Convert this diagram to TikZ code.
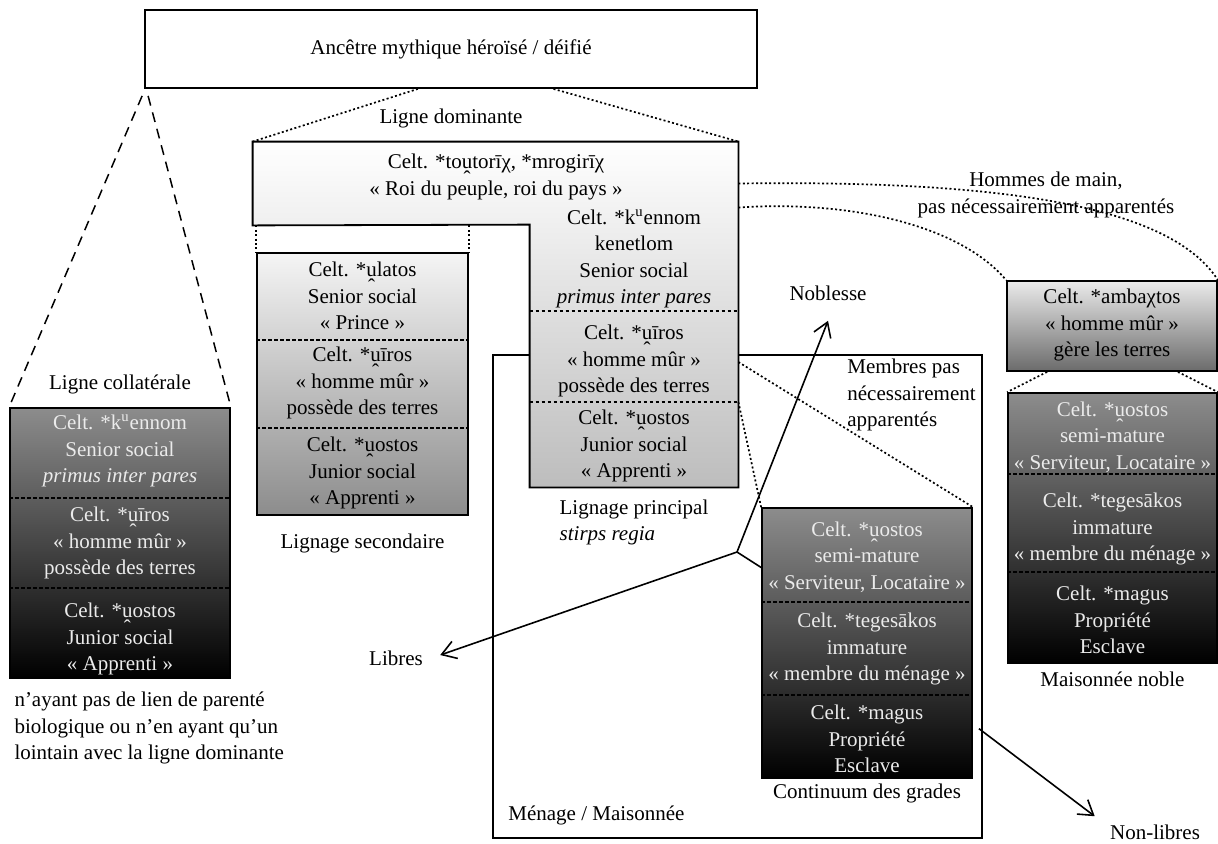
\documentclass[tikz,border=0pt]{standalone}
\usepackage{fontspec}
\setmainfont{Liberation Serif}
\usetikzlibrary{arrows.meta,positioning,calc}
\newcommand{\nsyl}[1]{\ooalign{#1\cr\hidewidth\raisebox{-0.8em}[0pt][0pt]{\char"02C6}\hidewidth\cr}}
\tikzset{
    lignframe/.style={draw, line width=0.9pt, inner sep=0pt},
    lignlight/.style={lignframe, top color=black!4, middle color=black!22, bottom color=black!45},
    lignmid/.style={lignframe, top color=black!8, middle color=black!30, bottom color=black!58},
    ligndark/.style={lignframe, top color=black!45, middle color=black!62, bottom color=black},
    lignitem/.style={align=center, inner sep=0pt},
    ligndarkitem/.style={lignitem, text=black!8},
    lignnote/.style={align=center, inner sep=1pt},
    lignsep/.style={line width=0.7pt, dash pattern=on 1.8pt off 1.2pt},
    ligndot/.style={line width=0.85pt, dash pattern=on 1pt off 1.2pt},
    ligndash/.style={line width=0.75pt, dash pattern=on 5pt off 3.5pt},
    lignline/.style={line width=0.8pt},
    lignarrow/.style={line width=0.8pt, -{Straight Barb[length=7pt,width=9pt]}}
}
\begin{document}
\begin{tikzpicture}[x=0.5pt, y=-0.5pt, font=\fontsize{10.5}{13.2}\selectfont]
    \useasboundingbox (0,0) rectangle (1218,843);
    \node[lignframe, minimum width=244.5pt, minimum height=241.5pt] (menage) at (737.5,596.5) {};
    \node[lignframe, fill=white, minimum width=306pt, minimum height=39pt] (anc) at (451,49) {Ancêtre mythique héroïsé / déifié};
    \node[inner sep=0pt, minimum width=242.5pt, minimum height=41.5pt] (roi) at (495.5,183.5) {};
    \node[inner sep=0pt, minimum width=104pt, minimum height=131pt] (princ) at (634,356) {};
    \draw[line width=0.9pt, top color=white, middle color=black!5, bottom color=black!26]
        (roi.north west) -- (roi.north east) -- (princ.south east) -- (princ.south west)
        -- (princ.north west) -- (roi.south west) -- cycle;
    \node[lignlight, minimum width=105.5pt, minimum height=131pt] (sec) at (362.5,384) {};
    \node[ligndark, minimum width=110pt, minimum height=135pt] (coll) at (120,543) {};
    \node[lignmid, minimum width=105pt, minimum height=45pt] (amb) at (1112,326) {};
    \node[ligndark, minimum width=104.5pt, minimum height=135pt] (noble) at (1112.5,528) {};
    \node[ligndark, minimum width=105pt, minimum height=135pt] (cont) at (867,643) {};

    \node[lignitem] (roitxt) at (496,177) {Celt. *to\nsyl{u}torīχ, *mrogirīχ\\« Roi du peuple, roi du pays »};
    \node[lignitem] (princ-a) at (634,259) {Celt. *k\textsuperscript{u}ennom\\kenetlom\\Senior social\\\textit{primus inter pares}};
    \node[lignitem] (princ-b) at (634,361) {Celt. *\nsyl{u}īros\\« homme mûr »\\possède des terres};
    \node[lignitem] (princ-c) at (634,446) {Celt. *\nsyl{u}ostos\\Junior social\\« Apprenti »};
    \node[lignitem] (sec-a) at (362.5,296) {Celt. *\nsyl{u}latos\\Senior social\\« Prince »};
    \node[lignitem] (sec-b) at (362.5,383) {Celt. *\nsyl{u}īros\\« homme mûr »\\possède des terres};
    \node[lignitem] (sec-c) at (362.5,473) {Celt. *\nsyl{u}ostos\\Junior social\\« Apprenti »};
    \node[ligndarkitem] (coll-a) at (120,451) {Celt. *k\textsuperscript{u}ennom\\Senior social\\\textit{primus inter pares}};
    \node[ligndarkitem] (coll-b) at (120,543) {Celt. *\nsyl{u}īros\\« homme mûr »\\possède des terres};
    \node[ligndarkitem] (coll-c) at (120,639) {Celt. *\nsyl{u}ostos\\Junior social\\« Apprenti »};
    \node[lignitem] (amb-a) at (1112,325) {Celt. *ambaχtos\\« homme mûr »\\gère les terres};
    \node[ligndarkitem] (noble-a) at (1112.5,437) {Celt. *\nsyl{u}ostos\\semi-mature\\« Serviteur, Locataire »};
    \node[ligndarkitem] (noble-b) at (1112.5,529) {Celt. *tegesākos\\immature\\« membre du ménage »};
    \node[ligndarkitem] (noble-c) at (1112.5,620) {Celt. *magus\\Propriété\\Esclave};
    \node[ligndarkitem] (cont-a) at (867,557) {Celt. *\nsyl{u}ostos\\semi-mature\\« Serviteur, Locataire »};
    \node[ligndarkitem] (cont-b) at (867,649) {Celt. *tegesākos\\immature\\« membre du ménage »};
    \node[ligndarkitem] (cont-c) at (867,739) {Celt. *magus\\Propriété\\Esclave};

    \foreach \y in {311,402} \draw[lignsep] (princ.west |- 0,\y) -- (princ.east |- 0,\y);
    \foreach \y in {340,428} \draw[lignsep] (sec.west |- 0,\y) -- (sec.east |- 0,\y);
    \foreach \y in {498,588} \draw[lignsep] (coll.west |- 0,\y) -- (coll.east |- 0,\y);
    \foreach \y in {474,572} \draw[lignsep] (noble.west |- 0,\y) -- (noble.east |- 0,\y);
    \foreach \y in {602,695} \draw[lignsep] (cont.west |- 0,\y) -- (cont.east |- 0,\y);

    \node[lignnote, below=9pt of anc] (ligdom) {Ligne dominante};
    \node[lignnote, above=5.5pt of coll] (collbl) {Ligne collatérale};
    \node[lignnote, align=left, below=5.5pt of coll.south west, anchor=north west, xshift=1.5pt] (collnote) {n’ayant pas de lien de parenté\\biologique ou n’en ayant qu’un\\lointain avec la ligne dominante};
    \node[lignnote, below=8pt of sec] (seclbl) {Lignage secondaire};
    \node[lignnote, align=left, below=5pt of princ] (princlbl) {Lignage principal\\\textit{stirps regia}};
    \node[lignnote, below=1.5pt of cont] (contlbl) {Continuum des grades};
    \node[lignnote, below=3pt of noble] (noblbl) {Maisonnée noble};
    \node[lignnote, anchor=west] (menlbl) at (506,815) {Ménage / Maisonnée};
    \node[lignnote, align=left, anchor=west] (membres) at (845,395) {Membres pas\\nécessairement\\apparentés};
    \node[lignnote] (hommes) at (1046,195) {Hommes de main,\\pas nécessairement apparentés};
    \node[lignnote] (noblesse) at (828,293) {Noblesse};
    \node[lignnote] (libres) at (396,658) {Libres};
    \node[lignnote] (nonlib) at (1155,832) {Non-libres};

    \draw[ligndot] ($(anc.south west)!0.446!(anc.south east)$) -- (roi.north west);
    \draw[ligndot] ($(anc.south west)!0.667!(anc.south east)$) -- (roi.north east);
    \draw[ligndash] ([xshift=-1pt,yshift=-3.5pt]anc.south west) -- (coll.north west);
    \draw[ligndash] ([xshift=2pt,yshift=-3.5pt]anc.south west) -- (coll.north east);
    \draw[ligndot] (sec.north west |- roi.south) -- (sec.north west);
    \draw[ligndot] (sec.north east |- roi.south) -- (sec.north east);
    \draw[ligndot] (princ.east |- 0,402) -- (cont.north west);
    \draw[ligndot] (princ.east |- 0,362) -- (cont.north east);
    \draw[ligndot] ([xshift=20.5pt]amb.south west) -- (noble.north west);
    \draw[ligndot] ([xshift=-20pt]amb.south east) -- (noble.north east);
    \draw[ligndot] (roi.east) .. controls (1000,180) and (1170,205) .. (amb.north east);
    \draw[ligndot] ([yshift=-12pt]roi.east) .. controls (850,200) and (960,225) .. (amb.north west);

    \coordinate (J) at (737,552);
    \draw[lignline] (J) -- ($(cont.north west)!0.222!(cont.south west)$);
    \draw[lignarrow] (J) -- ([yshift=-9pt]noblesse.south);
    \draw[lignarrow] (J) -- ([xshift=7.5pt,yshift=1.5pt]libres.east);
    \draw[lignarrow] ([xshift=3pt]$(cont.north east)!0.815!(cont.south east)$) -- ([xshift=-6.5pt,yshift=3pt]nonlib.north west);
\end{tikzpicture}
\end{document}
